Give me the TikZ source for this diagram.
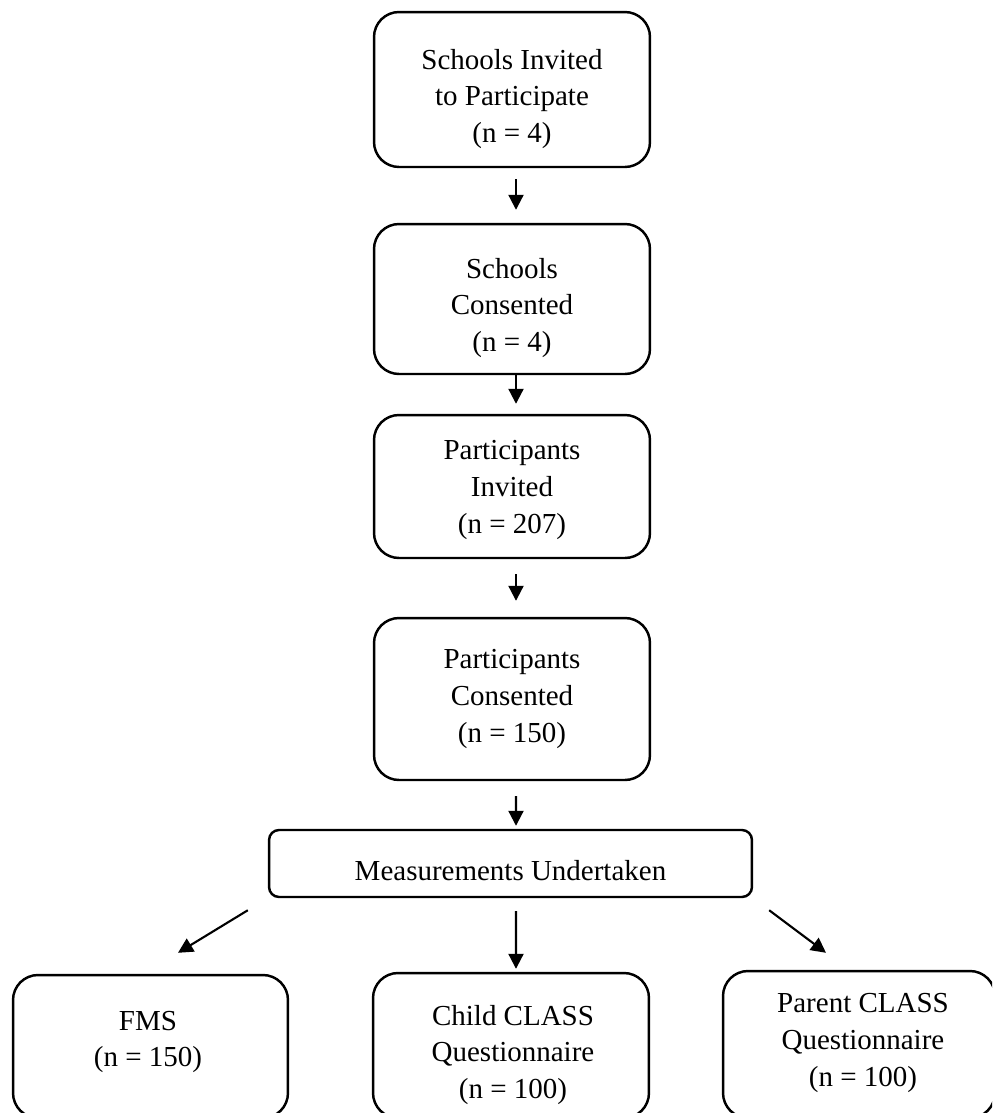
\documentclass[tikz,border=0pt]{standalone}
\usepackage{fontspec}
\setmainfont{Liberation Serif}
\usetikzlibrary{arrows.meta}

\begin{document}
\begin{tikzpicture}[
  x=0.02cm, y=-0.02cm,
  box/.style={draw, line width=1.4pt, rounded corners=0.5cm, inner sep=0pt},
  widebox/.style={draw, line width=1.4pt, rounded corners=0.2cm, inner sep=0pt},
  txt/.style={align=center, inner sep=0pt, font=\fontsize{16.5}{20.8}\selectfont},
  arr/.style={line width=1.2pt, -{Triangle[length=8.5pt,width=8.5pt]}}
]
\clip (0,0) rectangle (992,1113);

% recruitment chain
\node[box, minimum width=5.52cm, minimum height=3.1cm]  (b1) at (512,89.5) {};
\node[txt] (t1) at (512,99) {Schools Invited\\to Participate\\(n = 4)};

\node[box, minimum width=5.52cm, minimum height=3.0cm]  (b2) at (512,299) {};
\node[txt] (t2) at (512,308) {Schools\\Consented\\(n = 4)};

\node[box, minimum width=5.52cm, minimum height=2.86cm] (b3) at (512,486.5) {};
\node[txt] (t3) at (512,490) {Participants\\Invited\\(n = 207)};

\node[box, minimum width=5.52cm, minimum height=3.24cm] (b4) at (512,699) {};
\node[txt] (t4) at (512,699) {Participants\\Consented\\(n = 150)};

\node[widebox, minimum width=9.66cm, minimum height=1.34cm] (meas) at (510.5,863.5) {};
\node[txt] (tm) at (510.5,871) {Measurements Undertaken};

% measurement outcomes
\node[box, minimum width=5.5cm, minimum height=2.86cm]  (fms) at (150.5,1046.5) {};
\node[txt] (tf) at (148,1042) {FMS\\(n = 150)};

\node[box, minimum width=5.52cm, minimum height=2.9cm]  (child) at (511,1045.5) {};
\node[txt] (tc) at (513,1055) {Child CLASS\\Questionnaire\\(n = 100)};

\node[box, minimum width=5.44cm, minimum height=2.94cm] (parent) at (859,1044.5) {};
\node[txt] (tp) at (863,1043) {Parent CLASS\\Questionnaire\\(n = 100)};

% connectors
\draw[arr] ([shift={(4,11)}]b1.south) -- ([shift={(4,-13)}]b2.north);
\draw[arr] ([shift={(4,0)}]b2.south)  -- ([shift={(4,-10)}]b3.north);
\draw[arr] ([shift={(4,15)}]b3.south) -- ([shift={(4,-16)}]b4.north);
\draw[arr] ([shift={(4,15)}]b4.south) -- ([shift={(5.5,-3)}]meas.north);
\draw[arr] ([shift={(5.5,13)}]meas.south) -- ([shift={(5,-3)}]child.north);
\draw[arr] ([shift={(-20,12)}]meas.south west) -- ([shift={(27.5,-21)}]fms.north);
\draw[arr] ([shift={(16,12)}]meas.south east) -- ([shift={(-33,-17)}]parent.north);
\end{tikzpicture}
\end{document}
